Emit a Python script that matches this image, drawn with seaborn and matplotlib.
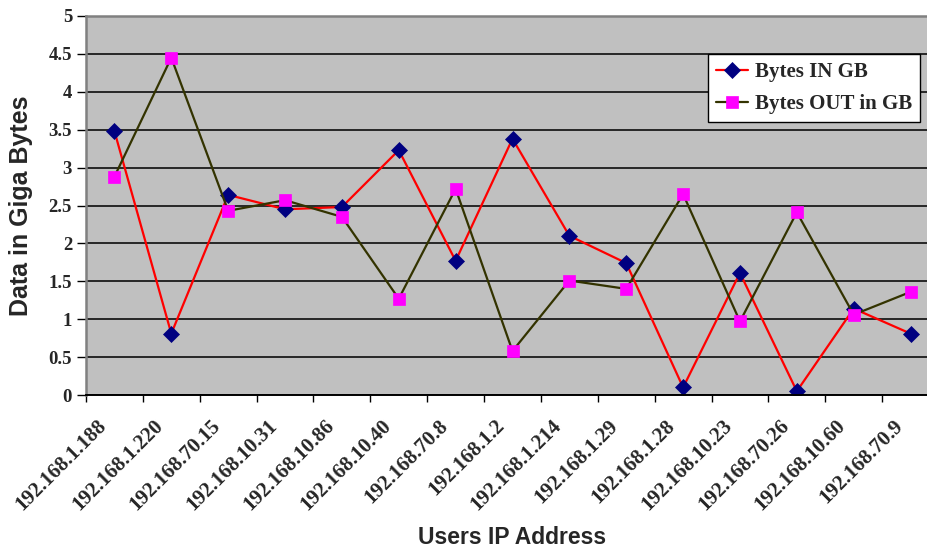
import numpy as np
import pandas as pd
import matplotlib
matplotlib.use("Agg")
import matplotlib.pyplot as plt
from matplotlib.ticker import FuncFormatter
import seaborn as sns


IP_ADDRESSES = ["192.168.1.188", "192.168.1.220", "192.168.70.15", "192.168.10.31",
                "192.168.10.86", "192.168.10.40", "192.168.70.8", "192.168.1.2",
                "192.168.1.214", "192.168.1.29", "192.168.1.28", "192.168.10.23",
                "192.168.70.26", "192.168.10.60", "192.168.70.9"]
BYTES_IN = [3.48, 0.81, 2.64, 2.45, 2.48, 3.23, 1.77, 3.38, 2.10, 1.74, 0.10, 1.61, 0.05, 1.14, 0.81]
BYTES_OUT = [2.88, 4.45, 2.43, 2.57, 2.35, 1.27, 2.72, 0.58, 1.51, 1.40, 2.65, 0.97, 2.41, 1.06, 1.36]
SERIES = ["Bytes IN GB", "Bytes OUT in GB"]
Y_TICKS = [0, 0.5, 1, 1.5, 2, 2.5, 3, 3.5, 4, 4.5, 5]

LINE_COLORS = {"Bytes IN GB": "#FF0000", "Bytes OUT in GB": "#333300"}
MARKER_COLORS = {"Bytes IN GB": "#000080", "Bytes OUT in GB": "#FF00FF"}
MARKERS = {"Bytes IN GB": "D", "Bytes OUT in GB": "s"}

sns.set_theme(style="white")
plt.rcParams["font.family"] = ["Liberation Serif", "DejaVu Serif"]

data = pd.DataFrame({"pos": np.arange(len(IP_ADDRESSES)), "ip": IP_ADDRESSES,
                     SERIES[0]: BYTES_IN, SERIES[1]: BYTES_OUT})
melted = data.melt(id_vars=["pos", "ip"], value_vars=SERIES, var_name="series", value_name="GB")

fig = plt.figure(figsize=(9.28, 5.47), dpi=100)
# plot area runs a bit past the right edge, like the cropped original
ax = fig.add_axes([86 / 928, 1 - 395 / 547, 853 / 928, 379 / 547])
ax.set_facecolor("#C0C0C0")

sns.lineplot(data=melted, x="pos", y="GB", hue="series", style="series", markers=MARKERS,
             dashes=False, palette=LINE_COLORS, linewidth=1.6, markersize=8,
             sort=False, ax=ax, legend=False)

handles = []
for line, name in zip(ax.lines, SERIES):
    line.set_markerfacecolor(MARKER_COLORS[name])
    line.set_markeredgecolor(MARKER_COLORS[name])
    line.set_markeredgewidth(0.5)
    line.set_markersize(8 if name == SERIES[0] else 8.5)
    handles.append(line)

ax.set_xlim(-0.5, len(IP_ADDRESSES) - 0.5)
ax.set_ylim(0, 5)
ax.set_yticks(Y_TICKS)
ax.yaxis.set_major_formatter(FuncFormatter(lambda v, p: "%g" % v))
ax.yaxis.grid(True, color="#1a1a1a", linewidth=1.3)
ax.xaxis.grid(False)
ax.set_axisbelow(True)

# label anchors sit a little left of each category centre (zero-length major ticks)
ax.set_xticks(np.arange(len(IP_ADDRESSES)) - 0.19)
ax.set_xticks(np.arange(-0.5, len(IP_ADDRESSES), 1), minor=True)
ax.set_xticklabels(IP_ADDRESSES, rotation=45, ha="right", va="center",
                   rotation_mode="anchor", fontsize=15, fontweight="bold")

ax.tick_params(axis="x", which="major", bottom=True, length=0, pad=20)
ax.tick_params(axis="x", which="minor", bottom=True, length=5, width=1, color="black", direction="out")
ax.tick_params(axis="y", left=True, length=6.5, width=1, color="black", direction="out", pad=3.5)
for label in ax.get_yticklabels():
    label.set_fontsize(13.5)
    label.set_fontweight("bold")

for side in ["top", "left", "right"]:
    ax.spines[side].set_color("#808080")
    ax.spines[side].set_linewidth(1.8)
ax.spines["bottom"].set_color("black")
ax.spines["bottom"].set_linewidth(1.4)

ax.set_xlabel("Users IP Address", fontsize=16.5, fontweight="bold", family="Liberation Sans")
ax.xaxis.set_label_coords(0.5, -0.345)
ax.set_ylabel("Data in Giga Bytes", fontsize=18, fontweight="bold", family="Liberation Sans")
ax.yaxis.set_label_coords(-0.062, 0.5)

legend = ax.legend(handles, SERIES, loc="upper left", bbox_to_anchor=(708 / 928, 1 - 54 / 547),
                   bbox_transform=fig.transFigure, frameon=True, fancybox=False,
                   edgecolor="black", facecolor="white", framealpha=1, borderaxespad=0,
                   prop={"family": "Liberation Serif", "weight": "bold", "size": 15},
                   handlelength=1.5, borderpad=0.4, labelspacing=0.55, handletextpad=0.35)
legend.get_frame().set_linewidth(1.0)

fig.savefig("out.png", dpi=100)
